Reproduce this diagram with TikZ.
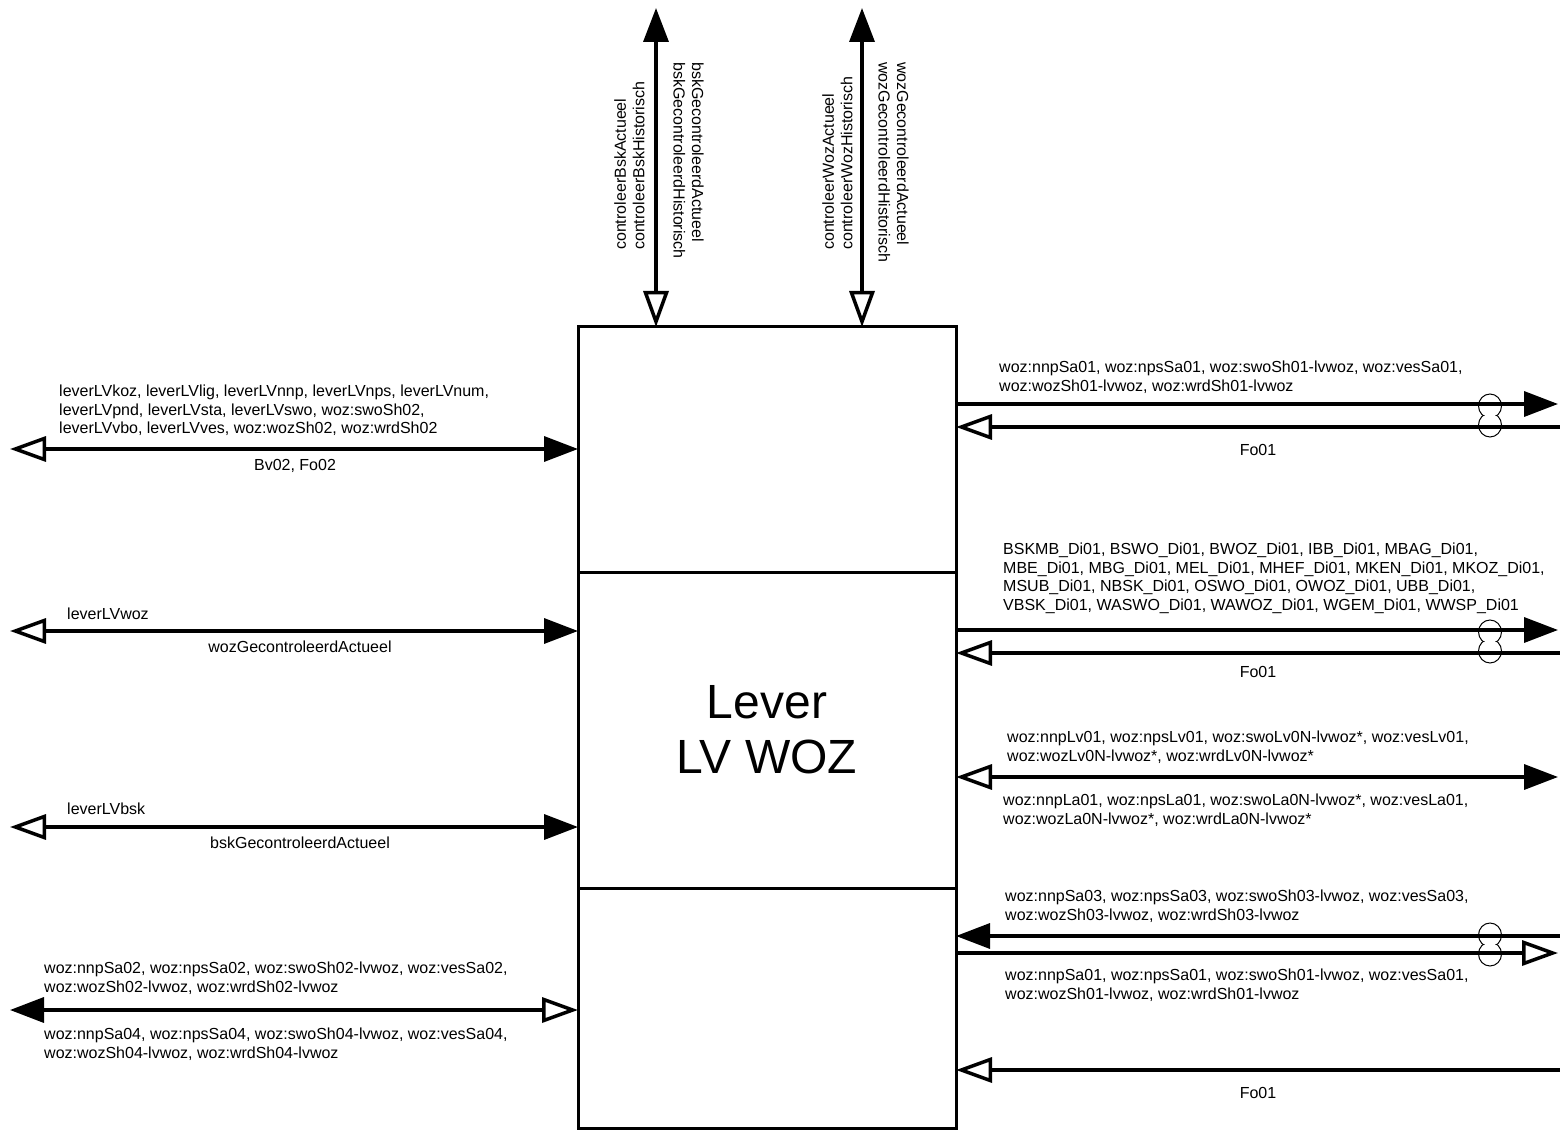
\documentclass[tikz,border=0pt]{standalone}
\usepackage{fontspec}
\setmainfont{Liberation Sans}
\usetikzlibrary{arrows.meta}
\tikzset{
  boxpart/.style={draw, line width=3pt, inner sep=0pt, outer sep=0pt, minimum width=378pt},
  conn/.style={line width=3.5pt},
  fhead/.tip={Triangle[length=34pt,width=25pt]},
  ohead/.tip={Triangle[open,length=36pt,width=25pt]},
  lbl/.style={inner sep=0pt, font=\fontsize{16}{18.5}\selectfont, align=left, anchor=north west},
  clbl/.style={inner sep=0pt, font=\fontsize{16}{18.5}\selectfont, anchor=center},
  rlbl/.style={inner sep=0pt, font=\fontsize{16}{19}\selectfont, align=left, anchor=north west},
  loop8/.style={line width=1pt}
}
\newcommand{\figeight}[2]{%
  \begin{scope}
    \clip ({#1-16},{#2-25}) rectangle ({#1+16},{#2});
    \draw[loop8] (#1,{#2-9.5}) ellipse [x radius=11.5, y radius=12];
  \end{scope}
  \begin{scope}
    \clip ({#1-16},{#2}) rectangle ({#1+16},{#2+25});
    \draw[loop8] (#1,{#2+9.5}) ellipse [x radius=11.5, y radius=12];
  \end{scope}}
\begin{document}
\begin{tikzpicture}[x=1pt,y=-1pt]
\useasboundingbox (0,0) rectangle (1560,1131);
\fill[white] (0,0) rectangle (1560,1131);

% the box
\node[boxpart, minimum height=245pt] (top) at (767,449.5) {};
\node[boxpart, minimum height=316pt, font=\fontsize{48}{55}\selectfont, align=center] (mid) at (767,730) {Lever\\LV WOZ};
\node[boxpart, minimum height=240pt] (bot) at (767,1008) {};

% top arrows
\coordinate (T1) at (656,8);
\coordinate (T2) at (862,8);
\draw[conn, {fhead}-{ohead}] (T1) -- (T1 |- top.north);
\draw[conn, {fhead}-{ohead}] (T2) -- (T2 |- top.north);
\node[lbl, rotate=90] (t1a) at (614,250) {controleerBskActueel\\controleerBskHistorisch};
\node[lbl, rotate=-90] (t1b) at (704,62) {bskGecontroleerdActueel\\bskGecontroleerdHistorisch};
\node[lbl, rotate=90] (t2a) at (822,250) {controleerWozActueel\\controleerWozHistorisch};
\node[lbl, rotate=-90] (t2b) at (909,62) {wozGecontroleerdActueel\\wozGecontroleerdHistorisch};

% left arrows
\coordinate (L1) at (10,449);
\coordinate (L2) at (10,631);
\coordinate (L3) at (10,827);
\coordinate (L4) at (10,1010);
\draw[conn, {ohead}-{fhead}] (L1) -- (L1 -| top.west);
\draw[conn, {ohead}-{fhead}] (L2) -- (L2 -| mid.west);
\draw[conn, {ohead}-{fhead}] (L3) -- (L3 -| mid.west);
\draw[conn, {fhead}-{ohead}] (L4) -- (L4 -| bot.west);

\node[lbl] (l1a) at (59,385) {leverLVkoz, leverLVlig, leverLVnnp, leverLVnps, leverLVnum,\\leverLVpnd, leverLVsta, leverLVswo, woz:swoSh02,\\leverLVvbo, leverLVves, woz:wozSh02, woz:wrdSh02};
\node[clbl] (l1b) at (295,466) {Bv02, Fo02};
\node[lbl] (l2a) at (67,608) {leverLVwoz};
\node[clbl] (l2b) at (300,647) {wozGecontroleerdActueel};
\node[lbl] (l3a) at (67,803) {leverLVbsk};
\node[clbl] (l3b) at (300,843) {bskGecontroleerdActueel};
\node[lbl] (l4a) at (44,962) {woz:nnpSa02, woz:npsSa02, woz:swoSh02-lvwoz, woz:vesSa02,\\woz:wozSh02-lvwoz, woz:wrdSh02-lvwoz};
\node[lbl] (l4b) at (44,1028) {woz:nnpSa04, woz:npsSa04, woz:swoSh04-lvwoz, woz:vesSa04,\\woz:wozSh04-lvwoz, woz:wrdSh04-lvwoz};

% right arrows
\coordinate (RA1) at (1558,404);
\coordinate (RA2) at (1560,427);
\coordinate (RB1) at (1558,630);
\coordinate (RB2) at (1560,653);
\coordinate (RC) at (1558,777);
\coordinate (RD1) at (1560,936);
\coordinate (RD2) at (1558,953);
\coordinate (RE) at (1560,1070);
\draw[conn, -{fhead}] (RA1 -| top.east) -- (RA1);
\draw[conn, -{ohead}] (RA2) -- (RA2 -| top.east);
\draw[conn, -{fhead}] (RB1 -| mid.east) -- (RB1);
\draw[conn, -{ohead}] (RB2) -- (RB2 -| mid.east);
\draw[conn, {ohead}-{fhead}] (RC -| mid.east) -- (RC);
\draw[conn, -{fhead}] (RD1) -- (RD1 -| bot.east);
\draw[conn, -{ohead}] (RD2 -| bot.east) -- (RD2);
\draw[conn, -{ohead}] (RE) -- (RE -| bot.east);

\figeight{1490}{415.5}
\figeight{1490}{641.5}
\figeight{1490}{944.5}

\node[lbl] (ra) at (999,361) {woz:nnpSa01, woz:npsSa01, woz:swoSh01-lvwoz, woz:vesSa01,\\woz:wozSh01-lvwoz, woz:wrdSh01-lvwoz};
\node[clbl] (rab) at (1258,450) {Fo01};
\node[lbl] (rb) at (1003,543) {BSKMB\_Di01, BSWO\_Di01, BWOZ\_Di01, IBB\_Di01, MBAG\_Di01,\\MBE\_Di01, MBG\_Di01, MEL\_Di01, MHEF\_Di01, MKEN\_Di01, MKOZ\_Di01,\\MSUB\_Di01, NBSK\_Di01, OSWO\_Di01, OWOZ\_Di01, UBB\_Di01,\\VBSK\_Di01, WASWO\_Di01, WAWOZ\_Di01, WGEM\_Di01, WWSP\_Di01};
\node[clbl] (rbb) at (1258,672) {Fo01};
\node[lbl] (rca) at (1007,731) {woz:nnpLv01, woz:npsLv01, woz:swoLv0N-lvwoz*, woz:vesLv01,\\woz:wozLv0N-lvwoz*, woz:wrdLv0N-lvwoz*};
\node[lbl] (rcb) at (1003,794) {woz:nnpLa01, woz:npsLa01, woz:swoLa0N-lvwoz*, woz:vesLa01,\\woz:wozLa0N-lvwoz*, woz:wrdLa0N-lvwoz*};
\node[lbl] (rda) at (1005,890) {woz:nnpSa03, woz:npsSa03, woz:swoSh03-lvwoz, woz:vesSa03,\\woz:wozSh03-lvwoz, woz:wrdSh03-lvwoz};
\node[lbl] (rdb) at (1005,969) {woz:nnpSa01, woz:npsSa01, woz:swoSh01-lvwoz, woz:vesSa01,\\woz:wozSh01-lvwoz, woz:wrdSh01-lvwoz};
\node[clbl] (reb) at (1258,1093) {Fo01};
\end{tikzpicture}
\end{document}
